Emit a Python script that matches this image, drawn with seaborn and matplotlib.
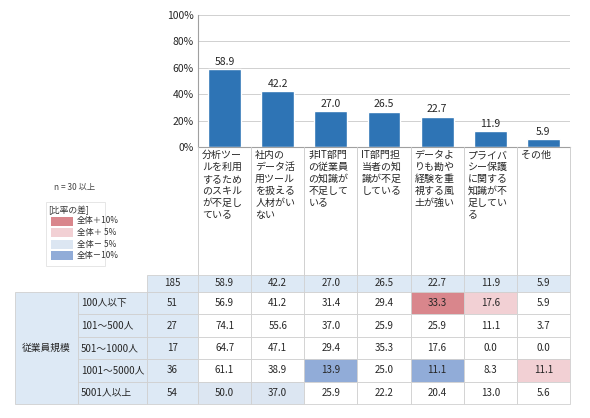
import numpy as np
import matplotlib
matplotlib.use("Agg")
import matplotlib.pyplot as plt
import seaborn as sns
from matplotlib.patches import Rectangle

sns.set_style("white")
plt.rcParams["font.family"] = ["Noto Sans CJK JP", "DejaVu Sans"]

categories = ["分析ツー\nルを利用\nするため\nのスキル\nが不足し\nている",
              "社内の\nデータ活\n用ツール\nを扱える\n人材がい\nない",
              "非IT部門\nの従業員\nの知識が\n不足して\nいる",
              "IT部門担\n当者の知\n識が不足\nしている",
              "データよ\nりも勘や\n経験を重\n視する風\n土が強い",
              "プライバ\nシー保護\nに関する\n知識が不\n足してい\nる",
              "その他"]
total_n = 185
total = [58.9, 42.2, 27.0, 26.5, 22.7, 11.9, 5.9]
group_label = "従業員規模"
rows = ["100人以下", "101～500人", "501～1000人", "1001～5000人", "5001人以上"]
row_n = [51, 27, 17, 36, 54]
values = [
    [56.9, 41.2, 31.4, 29.4, 33.3, 17.6, 5.9],
    [74.1, 55.6, 37.0, 25.9, 25.9, 11.1, 3.7],
    [64.7, 47.1, 29.4, 35.3, 17.6, 0.0, 0.0],
    [61.1, 38.9, 13.9, 25.0, 11.1, 8.3, 11.1],
    [50.0, 37.0, 25.9, 22.2, 20.4, 13.0, 5.6],
]
legend_labels = ["全体＋10%", "全体＋ 5%", "全体－ 5%", "全体－10%"]

c_red, c_lred, c_lblue, c_blue = "#d9868c", "#f2d0d4", "#dce6f2", "#91acd8"
head_bg = "#dde9f5"
grid_c = "#d0d0d0"

fig = plt.figure(figsize=(5.9, 4.18), dpi=100)
W, H = 590, 418
x0, x1 = 198, 570
ax = fig.add_axes([x0 / W, 1 - 147 / H, (x1 - x0) / W, (147 - 15) / H])
sns.barplot(x=list(range(len(total))), y=total, color="#2e74b5", width=0.62,
            saturation=1, ax=ax)
ax.set_ylim(0, 100)
ax.set_yticks(range(0, 101, 20))
ax.set_yticklabels([f"{v}%" for v in range(0, 101, 20)], fontsize=7.5)
ax.set_xticks([])
ax.set_xlim(-0.5, len(total) - 0.5)
ax.grid(axis="y", color=grid_c, lw=0.7)
ax.set_axisbelow(True)
for s in ["top", "right"]:
    ax.spines[s].set_visible(False)
ax.spines["left"].set_color("#a0a0a0")
ax.spines["bottom"].set_color("#a0a0a0")
ax.tick_params(axis="y", length=0, pad=3)
for i, v in enumerate(total):
    ax.text(i, v + 2, f"{v:.1f}", ha="center", va="bottom", fontsize=7.5)

# overlay in pixel coordinates
ov = fig.add_axes([0, 0, 1, 1])
ov.set_xlim(0, W)
ov.set_ylim(H, 0)
ov.axis("off")
ncol = len(total)
cw = (x1 - x0) / ncol
colx = [x0 + k * cw for k in range(ncol + 1)]

# label area
for k in range(ncol + 1):
    ov.plot([colx[k], colx[k]], [147, 275], color=grid_c, lw=0.7)
for i, lab in enumerate(categories):
    ov.text(colx[i] + 4, 150, lab, ha="left", va="top", fontsize=7.2, linespacing=1.25)

# legend
ov.text(75, 187, "n = 30 以上", ha="center", va="center", fontsize=6, color="#444")
ov.add_patch(Rectangle((46, 202), 59, 64, fc="white", ec="#e6e6e6", lw=0.7))
ov.text(48, 210, "[比率の差]", ha="left", va="center", fontsize=6.3, color="#333")
for j, (lab, c) in enumerate(zip(legend_labels, [c_red, c_lred, c_lblue, c_blue])):
    y = 221 + j * 11.5
    ov.add_patch(Rectangle((51, y - 4.5), 22, 9, fc=c, ec="none"))
    ov.text(77, y, lab, ha="left", va="center", fontsize=6, color="#333")

# table
ty0, th = 275, 17
rh = 22.4
ncx, glx = 147, 78
ov.add_patch(Rectangle((ncx, ty0), x1 - ncx, th, fc=head_bg, ec=grid_c, lw=0.6))
ov.text((ncx + x0) / 2, ty0 + th / 2, str(total_n), ha="center", va="center", fontsize=7)
for k, v in enumerate(total):
    ov.plot([colx[k], colx[k]], [ty0, ty0 + th], color=grid_c, lw=0.6)
    ov.text(colx[k] + cw / 2, ty0 + th / 2, f"{v:.1f}", ha="center", va="center", fontsize=7)
body0 = ty0 + th
body1 = body0 + rh * len(rows)
ov.add_patch(Rectangle((15, body0), glx - 15, body1 - body0, fc=head_bg, ec=grid_c, lw=0.6))
ov.text((15 + glx) / 2, (body0 + body1) / 2, group_label, ha="center", va="center", fontsize=7)
for r, (name, n, vals) in enumerate(zip(rows, row_n, values)):
    yt = body0 + r * rh
    ov.add_patch(Rectangle((glx, yt), ncx - glx, rh, fc=head_bg, ec=grid_c, lw=0.6))
    ov.text(glx + 3, yt + rh / 2, name, ha="left", va="center", fontsize=7)
    ov.add_patch(Rectangle((ncx, yt), x0 - ncx, rh, fc=head_bg, ec=grid_c, lw=0.6))
    ov.text((ncx + x0) / 2, yt + rh / 2, str(n), ha="center", va="center", fontsize=7)
    for k, v in enumerate(vals):
        d = v - total[k]
        fc = "white"
        if n >= 30:
            if d >= 10:
                fc = c_red
            elif d >= 5:
                fc = c_lred
            elif d <= -10:
                fc = c_blue
            elif d <= -5:
                fc = c_lblue
        ov.add_patch(Rectangle((colx[k], yt), cw, rh, fc=fc, ec=grid_c, lw=0.6))
        ov.text(colx[k] + cw / 2, yt + rh / 2, f"{v:.1f}", ha="center", va="center", fontsize=7)

fig.savefig("out.png", dpi=100)
